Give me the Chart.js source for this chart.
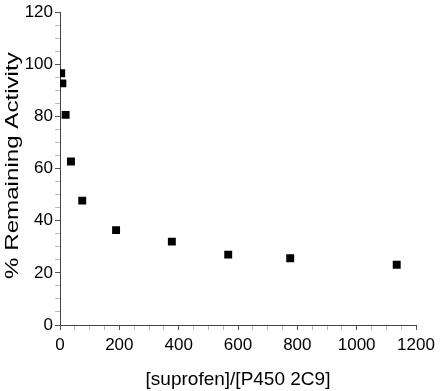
<!DOCTYPE html>
<html>
<head>
<meta charset="utf-8">
<script src="https://cdn.jsdelivr.net/npm/chart.js@4"></script>
<style>
  html, body { margin: 0; padding: 0; background: #fff; }
  #wrap { width: 440px; height: 391px; }
</style>
</head>
<body>
<div id="wrap"><canvas id="chart"></canvas></div>
<script>
// values
const ratio = [4, 8, 19, 37, 75, 189, 377, 567, 776, 1135];
const remaining = [96.6, 92.7, 80.6, 62.7, 47.7, 36.4, 32.0, 27.0, 25.6, 23.1];

const xLabel = '[suprofen]/[P450 2C9]';
const yLabel = '% Remaining Activity';

const fontFamily = '"Liberation Sans", Arial, Helvetica, sans-serif';

const tickColor = (major) => (ctx) => (ctx.tick && ctx.tick.value % major === 0) ? '#555' : '#bbb';

// the y title in the original is stretched along its length
const stretchedTitle = {
    id: 'stretchedTitle',
    afterLayout(chart) {
        const s = chart.scales.y;
        if (!s || s._stretched) return;
        const orig = s.drawTitle.bind(s);
        s.drawTitle = function () {
            const c = this.ctx;
            const cy = (this.top + this.bottom) / 2;
            c.save();
            c.translate(0, cy - 3);
            c.scale(1, 1.27);
            c.translate(0, -cy);
            orig();
            c.restore();
        };
        s._stretched = true;
    },
};

new Chart(document.getElementById('chart'), {
    type: 'scatter',
    data: {
        datasets: [{
            data: ratio.map((x, i) => ({ x: x, y: remaining[i] })),
            backgroundColor: '#000',
            borderColor: '#000',
            borderWidth: 0,
            pointStyle: 'rect',
            pointRadius: 5.6,
            pointHoverRadius: 5.6,
        }],
    },
    plugins: [stretchedTitle],
    options: {
        responsive: true,
        maintainAspectRatio: false,
        animation: false,
        layout: { padding: { left: 0, right: 24, top: 10, bottom: 0 } },
        plugins: { legend: { display: false }, tooltip: { enabled: false } },
        scales: {
            x: {
                type: 'linear',
                min: 0,
                max: 1200,
                afterFit: (s) => { s.height = 66; },
                border: { color: '#444', width: 1 },
                grid: { drawOnChartArea: false, drawTicks: true, tickLength: 5, color: tickColor(200) },
                ticks: {
                    stepSize: 50,
                    autoSkip: false,
                    maxRotation: 0,
                    padding: 5,
                    color: '#000',
                    font: { family: fontFamily, size: 17 },
                    callback: (v) => (v % 200 === 0 ? v : ''),
                },
                title: {
                    display: true,
                    text: xLabel,
                    color: '#000',
                    font: { family: fontFamily, size: 19 },
                    padding: { top: 0, bottom: 0 },
                },
            },
            y: {
                type: 'linear',
                min: 0,
                max: 120,
                afterFit: (s) => { s.width = 60; },
                border: { color: '#444', width: 1 },
                grid: { drawOnChartArea: false, drawTicks: true, tickLength: 5, color: tickColor(20) },
                ticks: {
                    stepSize: 5,
                    autoSkip: false,
                    padding: 2,
                    color: '#000',
                    font: { family: fontFamily, size: 17 },
                    callback: (v) => (v % 20 === 0 ? v : ''),
                },
                title: {
                    display: true,
                    text: yLabel,
                    color: '#000',
                    font: { family: fontFamily, size: 19 },
                    padding: { top: 1.5, bottom: 0 },
                },
            },
        },
    },
});
</script>
</body>
</html>
